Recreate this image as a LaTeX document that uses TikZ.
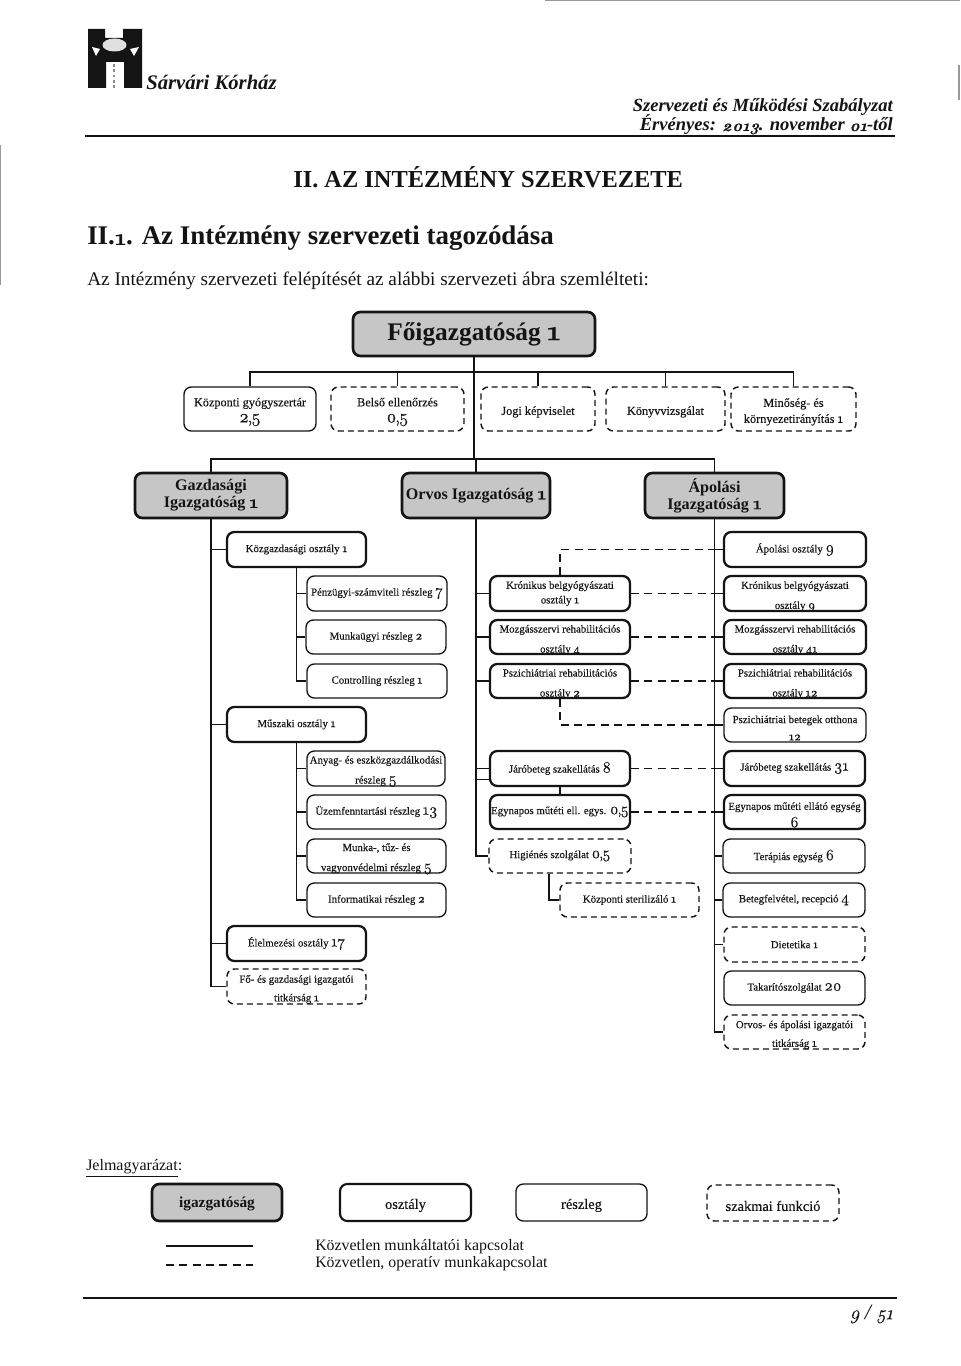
\documentclass[tikz,border=0pt]{standalone}
\usepackage{fontspec}
\setmainfont{Liberation Serif}
\newfontfamily\chartf[FakeBold=0.15]{Liberation Serif}
\newfontfamily\osf[Numbers=OldStyle,Scale=1.12,FakeBold=0.7]{Latin Modern Roman}
\newfontfamily\osfH[Numbers=OldStyle,Scale=0.86,FakeBold=0.6]{Latin Modern Roman}
\newfontfamily\osfL[Numbers=OldStyle,Scale=1.45,FakeBold=0.4]{Latin Modern Roman}
\newcommand\nb[1]{{\osf #1}}
\newcommand\nl[1]{{\osfL #1}}
\newcommand\nz[2]{{\osfL #1\kern-.9pt,\kern-.9pt #2}}
\newcommand\bx[7]{%
  \pgfmathsetmacro\bxcx{(#2+#4)/2}%
  \pgfmathsetmacro\bxcy{-(#3+#5)/2}%
  \pgfmathsetmacro\bxw{(#4-#2)*0.75}%
  \pgfmathsetmacro\bxh{(#5-#3)*0.75}%
  \node[#6,minimum width=\bxw pt,minimum height=\bxh pt] (#1) at (\bxcx,\bxcy) {#7};}
% box whose text sits lower than the centre, as in the scanned sheet
\newcommand\ty[8][small]{%
  \bx{#2}{#3}{#4}{#5}{#6}{#7}{}%
  \node[plain,align=center,#1] (#2t) at ([yshift=-2.2pt]#2.center) {#8};}
\definecolor{ink}{HTML}{141414}
\definecolor{mott}{HTML}{C6C6C6}
\tikzset{
  base/.style={rectangle,rounded corners=5.5pt,inner sep=0pt,align=center,fill=white,text=ink,draw=ink},
  small/.style={font=\chartf\fontsize{8.1}{10}\selectfont},
  toprow/.style={font=\chartf\fontsize{9.2}{12}\selectfont},
  legtext/.style={font=\chartf\fontsize{10.8}{13}\selectfont},
  thinbox/.style={base,small,line width=1.0pt},
  thickbox/.style={base,small,line width=1.7pt},
  funcbox/.style={base,small,line width=1.1pt,dash pattern=on 4.5pt off 3pt},
  dirbox/.style={base,fill=mott,line width=2pt,font=\bfseries\fontsize{12.1}{12.75}\selectfont},
  conn/.style={draw=ink,line width=1.3pt},
  dconn/.style={draw=ink,line width=1.3pt,dash pattern=on 6pt off 4pt},
  plain/.style={inner sep=0pt,text=ink},
  scan/.style={draw=black!40,line width=1pt}
}
\begin{document}
\begin{tikzpicture}[x=0.75pt,y=0.75pt]
\useasboundingbox (0,0) rectangle (960,-1366);
\fill[white] (0,0) rectangle (960,-1366);
% scan edge marks
\draw[scan] (545,-0.5) -- (960,-0.5);
\draw[scan] (959,-65) -- (959,-100);
\draw[scan] (0.5,-145) -- (0.5,-285);
% logo
\fill[ink] (88,-29) -- (105,-29) -- (105,-38) -- (123,-38) -- (123,-29) -- (142,-29) -- (142,-88) -- (124,-88) -- (124,-62) -- (106,-62) -- (106,-88) -- (88,-88) -- cycle;
\fill[white!88!black] (114.5,-45) ellipse (12 and 6.5);
\fill[white] (92,-47) -- (100,-49) -- (96,-56) -- cycle;
\fill[white] (139,-47) -- (130,-49) -- (134,-56) -- cycle;
\draw[black!45,line width=1pt,dash pattern=on 2pt off 2pt] (114,-64) -- (114,-88);
\node[plain,anchor=west,font=\bfseries\itshape\fontsize{15.5}{18}\selectfont] (brand) at (146,-82) {Sárvári Kórház};
% header
\node[plain,anchor=east,font=\bfseries\itshape\fontsize{13.9}{16}\selectfont] (hd1) at (893,-107) {Szervezeti és Működési Szabályzat};
\node[plain,anchor=east,font=\bfseries\itshape\fontsize{13.9}{16}\selectfont] (hd2) at (893,-125) {Érvényes: {\osfH 2013}. november {\osfH 01}-től};
\coordinate (hrA) at (85,-136); \coordinate (hrB) at (895,-136);
\draw[ink,line width=2pt] (hrA) -- (hrB);
\node[plain,anchor=west,font=\bfseries\fontsize{18.3}{22}\selectfont] (title) at (293,-177) {II. AZ INTÉZMÉNY SZERVEZETE};
\node[plain,anchor=west,font=\bfseries\fontsize{20.2}{24}\selectfont] (sect) at (87,-238.5) {II.{\osfH 1}. Az Intézmény szervezeti tagozódása};
\node[plain,anchor=west,font=\fontsize{14.45}{18}\selectfont] (intro) at (87,-281) {Az Intézmény szervezeti felépítését az alábbi szervezeti ábra szemlélteti:};

\coordinate (hub1) at (474,-372);
\coordinate (hub2) at (474,-459);

% directors and top row
\bx{fo}{353}{312}{595}{356}{dirbox,font=\bfseries\fontsize{19}{22}\selectfont}{Főigazgatóság \nb{1}}
\ty[toprow]{kgy}{184}{387}{316}{431}{thinbox}{Központi gyógyszertár\\\nz{2}{5}}
\ty[toprow]{bels}{331}{387}{464}{431}{funcbox}{Belső ellenőrzés\\\nz{0}{5}}
\ty[toprow]{jogi}{481}{387}{595}{431}{funcbox}{Jogi képviselet}
\ty[toprow]{konyv}{606}{387}{725}{431}{funcbox}{Könyvvizsgálat}
\ty[toprow]{mino}{731}{387}{856}{431}{funcbox}{Minőség- és\\környezetirányítás \nb{1}}
\bx{gaz}{135}{473}{287}{518}{dirbox}{Gazdasági\\Igazgatóság \nb{1}}
\bx{orv}{402}{473}{550}{518}{dirbox}{Orvos Igazgatóság \nb{1}}
\bx{apo}{645}{473}{784}{518}{dirbox}{Ápolási\\Igazgatóság \nb{1}}

% left column
\bx{kozg}{227}{532}{366}{567}{thickbox}{Közgazdasági osztály \nb{1}}
\bx{penz}{307}{576}{447}{611}{thinbox}{Pénzügyi-számviteli részleg \nl{7}}
\bx{munk}{306}{620}{446}{654}{thinbox}{Munkaügyi részleg \nb{2}}
\bx{cont}{307}{664}{447}{698}{thinbox}{Controlling részleg \nb{1}}
\bx{musz}{227}{707}{366}{742}{thickbox}{Műszaki osztály \nb{1}}
\ty{anya}{307}{751}{445}{786}{thinbox}{Anyag- és eszközgazdálkodási\\[5pt]részleg \nl{5}}
\bx{uzem}{307}{795}{446}{829}{thinbox}{Üzemfenntartási részleg \nl{13}}
\ty{tuz}{307}{839}{446}{873}{thinbox}{Munka-, tűz- és\\[5pt]vagyonvédelmi részleg \nl{5}}
\bx{info}{307}{883}{446}{917}{thinbox}{Informatikai részleg \nb{2}}
\bx{elel}{227}{926}{366}{961}{thickbox}{Élelmezési osztály \nl{17}}
\ty{gtit}{227}{969}{366}{1004}{funcbox}{Fő- és gazdasági igazgatói\\[4pt]titkárság \nb{1}}

% middle column
\bx{kron}{490}{576}{630}{611}{thickbox}{Krónikus belgyógyászati\\[1pt]osztály \nb{1}}
\ty{mozg}{490}{620}{630}{654}{thickbox}{Mozgásszervi rehabilitációs\\[5pt]osztály \nb{4}}
\ty{psz}{490}{664}{630}{698}{thickbox}{Pszichiátriai rehabilitációs\\[5pt]osztály \nb{2}}
\bx{jar}{490}{751}{630}{786}{thickbox}{Járóbeteg szakellátás \nl{8}}
\bx{egy}{490}{795}{630}{829}{thickbox}{Egynapos műtéti ell. egys. \nz{0}{5}}
\bx{hig}{489}{839}{631}{873}{funcbox}{Higiénés szolgálat \nz{0}{5}}
\bx{ster}{560}{883}{699}{917}{funcbox}{Központi sterilizáló \nb{1}}

% right column
\bx{apoO}{724}{532}{866}{567}{thickbox}{Ápolási osztály \nl{9}}
\ty{kronR}{724}{576}{866}{611}{thickbox}{Krónikus belgyógyászati\\[5pt]osztály \nb{9}}
\ty{mozgR}{724}{620}{866}{654}{thickbox}{Mozgásszervi rehabilitációs\\[5pt]osztály \nb{41}}
\ty{pszR}{724}{664}{866}{698}{thickbox}{Pszichiátriai rehabilitációs\\[5pt]osztály \nb{12}}
\ty{otth}{724}{708}{866}{742}{thinbox}{Pszichiátriai betegek otthona\\[3pt]\nb{12}}
\bx{jarR}{724}{751}{865}{786}{thickbox}{Járóbeteg szakellátás \nl{31}}
\ty{egyR}{724}{795}{865}{829}{thickbox}{Egynapos műtéti ellátó egység\\[3pt]\nl{6}}
\bx{ter}{723}{839}{865}{873}{thinbox}{Terápiás egység \nl{6}}
\bx{bet}{723}{883}{865}{917}{thinbox}{Betegfelvétel, recepció \nl{4}}
\bx{diet}{724}{927}{865}{962}{funcbox}{Dietetika \nb{1}}
\bx{tak}{724}{971}{865}{1005}{thinbox}{Takarítószolgálat \nl{20}}
\ty{otit}{724}{1015}{865}{1049}{funcbox}{Orvos- és ápolási igazgatói\\[4pt]titkárság \nb{1}}

% top tree
\draw[conn] (fo.south) -- (hub1) -- (hub2);
\draw[conn] (kgy.north) |- (hub1) -| (mino.north);
\draw[conn] (bels.north) -- (bels.north |- hub1);
\draw[conn] (jogi.north) -- (jogi.north |- hub1);
\draw[conn] (konyv.north) -- (konyv.north |- hub1);
\draw[conn] (gaz.north) |- (hub2) -| (apo.north);
\draw[conn] (orv.north) -- (orv.north |- hub2);
% left spine
\draw[conn] (gaz.south) |- (gtit.west);
\draw[conn] (gaz.south |- kozg.west) -- (kozg.west);
\draw[conn] (gaz.south |- musz.west) -- (musz.west);
\draw[conn] (gaz.south |- elel.west) -- (elel.west);
\draw[conn] (kozg.south) |- (cont.west);
\draw[conn] (kozg.south |- penz.west) -- (penz.west);
\draw[conn] (kozg.south |- munk.west) -- (munk.west);
\draw[conn] (musz.south) |- (info.west);
\draw[conn] (musz.south |- anya.west) -- (anya.west);
\draw[conn] (musz.south |- uzem.west) -- (uzem.west);
\draw[conn] (musz.south |- tuz.west) -- (tuz.west);
% middle spine
\draw[conn] (orv.south) |- (hig.west);
\draw[conn] (orv.south |- kron.west) -- (kron.west);
\draw[conn] (orv.south |- mozg.west) -- (mozg.west);
\draw[conn] (orv.south |- psz.west) -- (psz.west);
\draw[conn] (orv.south |- jar.west) -- (jar.west);
\draw[conn] ([yshift=-8.25pt]orv.south |- jar.west) -- ([yshift=-8.25pt]jar.west);
\draw[conn] (jar.south) -- (egy.north);
\draw[conn] ([xshift=-8.25pt]hig.south) |- (ster.west);
% right spine
\draw[conn] (apo.south) |- (otit.west);
\foreach \nn in {apoO,kronR,mozgR,pszR,otth,jarR,egyR,ter,bet,diet}{
  \draw[conn] (apo.south |- \nn.west) -- (\nn.west);
}
% operative links
\draw[dconn] (kron.north) |- (apo.south |- apoO.west);
\draw[dconn] (kron.east) -- (apo.south |- kronR.west);
\draw[dconn] (mozg.east) -- (apo.south |- mozgR.west);
\draw[dconn] (psz.east) -- (apo.south |- pszR.west);
\draw[dconn] (psz.south) |- (apo.south |- otth.west);
\draw[dconn] (jar.east) -- (apo.south |- jarR.west);
\draw[dconn] (egy.east) -- (apo.south |- egyR.west);

% legend
\node[plain,anchor=west,font=\fontsize{12}{14}\selectfont] (leg) at (86,-1168) {\underline{Jelmagyarázat}:};
\bx{lgi}{152}{1184}{282}{1221}{dirbox}{}
\node[plain,font=\bfseries\fontsize{11.5}{14}\selectfont] (lgit) at ([yshift=-1.2pt]lgi.center) {igazgatóság};
\ty[legtext]{lgo}{340}{1184}{471}{1221}{base,line width=1.6pt}{osztály}
\ty[legtext]{lgr}{516}{1184}{647}{1221}{base,line width=1pt}{részleg}
\ty[legtext]{lgs}{707}{1185}{839}{1221}{funcbox}{szakmai funkció}
\coordinate (la) at (166,-1246); \coordinate (lb) at (253,-1246);
\coordinate (lc) at (166,-1265); \coordinate (ld) at (253,-1265);
\draw[conn] (la) -- (lb);
\draw[dconn] (lc) -- (ld);
\node[plain,anchor=west,font=\fontsize{11.9}{14}\selectfont] (lt1) at (315,-1247) {Közvetlen munkáltatói kapcsolat};
\node[plain,anchor=west,font=\fontsize{11.9}{14}\selectfont] (lt2) at (315,-1264) {Közvetlen, operatív munkakapcsolat};
% footer
\coordinate (frA) at (83,-1298); \coordinate (frB) at (897,-1298);
\draw[ink,line width=2pt] (frA) -- (frB);
\node[plain,anchor=east,font=\itshape\fontsize{16.5}{18}\selectfont] (pg) at (893,-1314) {{\osfH 9} / {\osfH 51}};
\end{tikzpicture}
\end{document}
